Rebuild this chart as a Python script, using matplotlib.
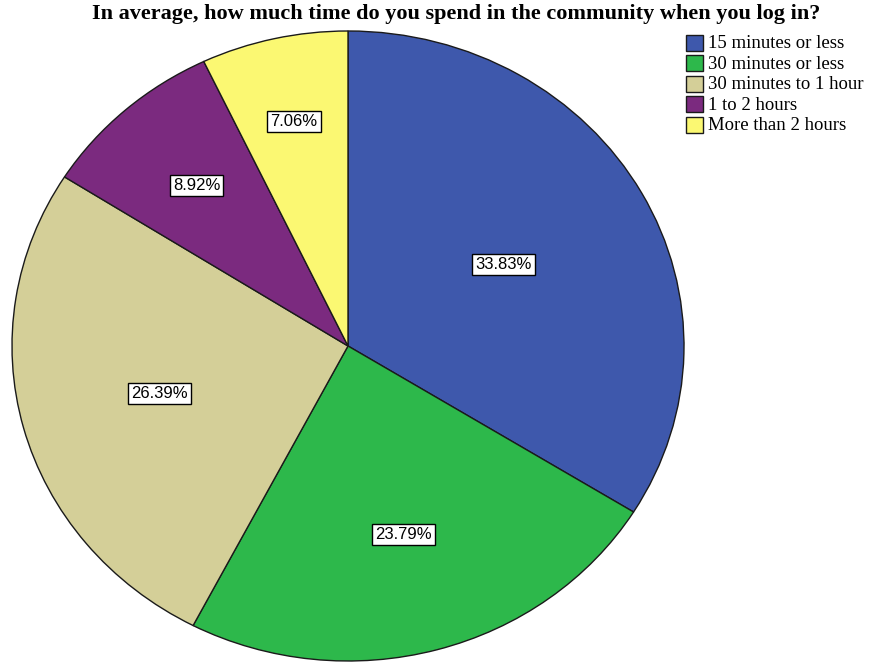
import numpy as np
import matplotlib
matplotlib.use("Agg")
import matplotlib.pyplot as plt
from matplotlib.patches import Rectangle
from matplotlib.transforms import Affine2D

categories = ["15 minutes or less", "30 minutes or less", "30 minutes to 1 hour",
              "1 to 2 hours", "More than 2 hours"]
percentages = [33.83, 23.79, 26.39, 8.92, 7.06]
colors = ["#3e58ac", "#2db84b", "#d4cf98", "#7b2a7f", "#fbf872"]
# radial position of each percentage label, as a fraction of the radius
label_dist = [0.53, 0.62, 0.58, 0.68, 0.73]

W, H = 869, 662
fig = plt.figure(figsize=(W / 100, H / 100), dpi=100)
# pie occupies an ellipse spanning these pixel bounds
x0, x1, y0, y1 = 12, 684, 31, 661
ax = fig.add_axes([x0 / W, (H - y1) / H, (x1 - x0) / W, (y1 - y0) / H])

wedges, _ = ax.pie(percentages, colors=colors, startangle=90, counterclock=False,
                   radius=1.0, wedgeprops=dict(edgecolor="#1a1a1a", linewidth=1.0))
ax.set_aspect("auto")
ax.set_xlim(-1.0, 1.0)
ax.set_ylim(-1.0, 1.0)
ax.axis("off")

for w, pct, d in zip(wedges, percentages, label_dist):
    ang = np.deg2rad((w.theta1 + w.theta2) / 2)
    ax.text(d * np.cos(ang), d * np.sin(ang), f"{pct:.2f}%",
            ha="center", va="center", fontsize=12, family="Liberation Sans",
            bbox=dict(boxstyle="square,pad=0.18", facecolor="white",
                      edgecolor="black", linewidth=1.0))

fig.text(456 / W, 1 - 14 / H,
         "In average, how much time do you spend in the community when you log in?",
         ha="center", va="center", fontsize=16, fontweight="bold",
         family="Liberation Serif")

# legend drawn in pixel coordinates (origin at top-left)
to_fig = Affine2D().scale(1 / W, -1 / H).translate(0, 1) + fig.transFigure
row0, row_step = 42.5, 20.6
for i, (lab, col) in enumerate(zip(categories, colors)):
    yc = row0 + i * row_step
    fig.patches.append(Rectangle((686, yc - 8), 17, 16, facecolor=col,
                                 edgecolor="#1a1a1a", linewidth=1.0,
                                 transform=to_fig))
    fig.text(708, yc + 1, lab, transform=to_fig, ha="left", va="center",
             fontsize=13.5, family="Liberation Serif")

fig.savefig("out.png", dpi=100)
